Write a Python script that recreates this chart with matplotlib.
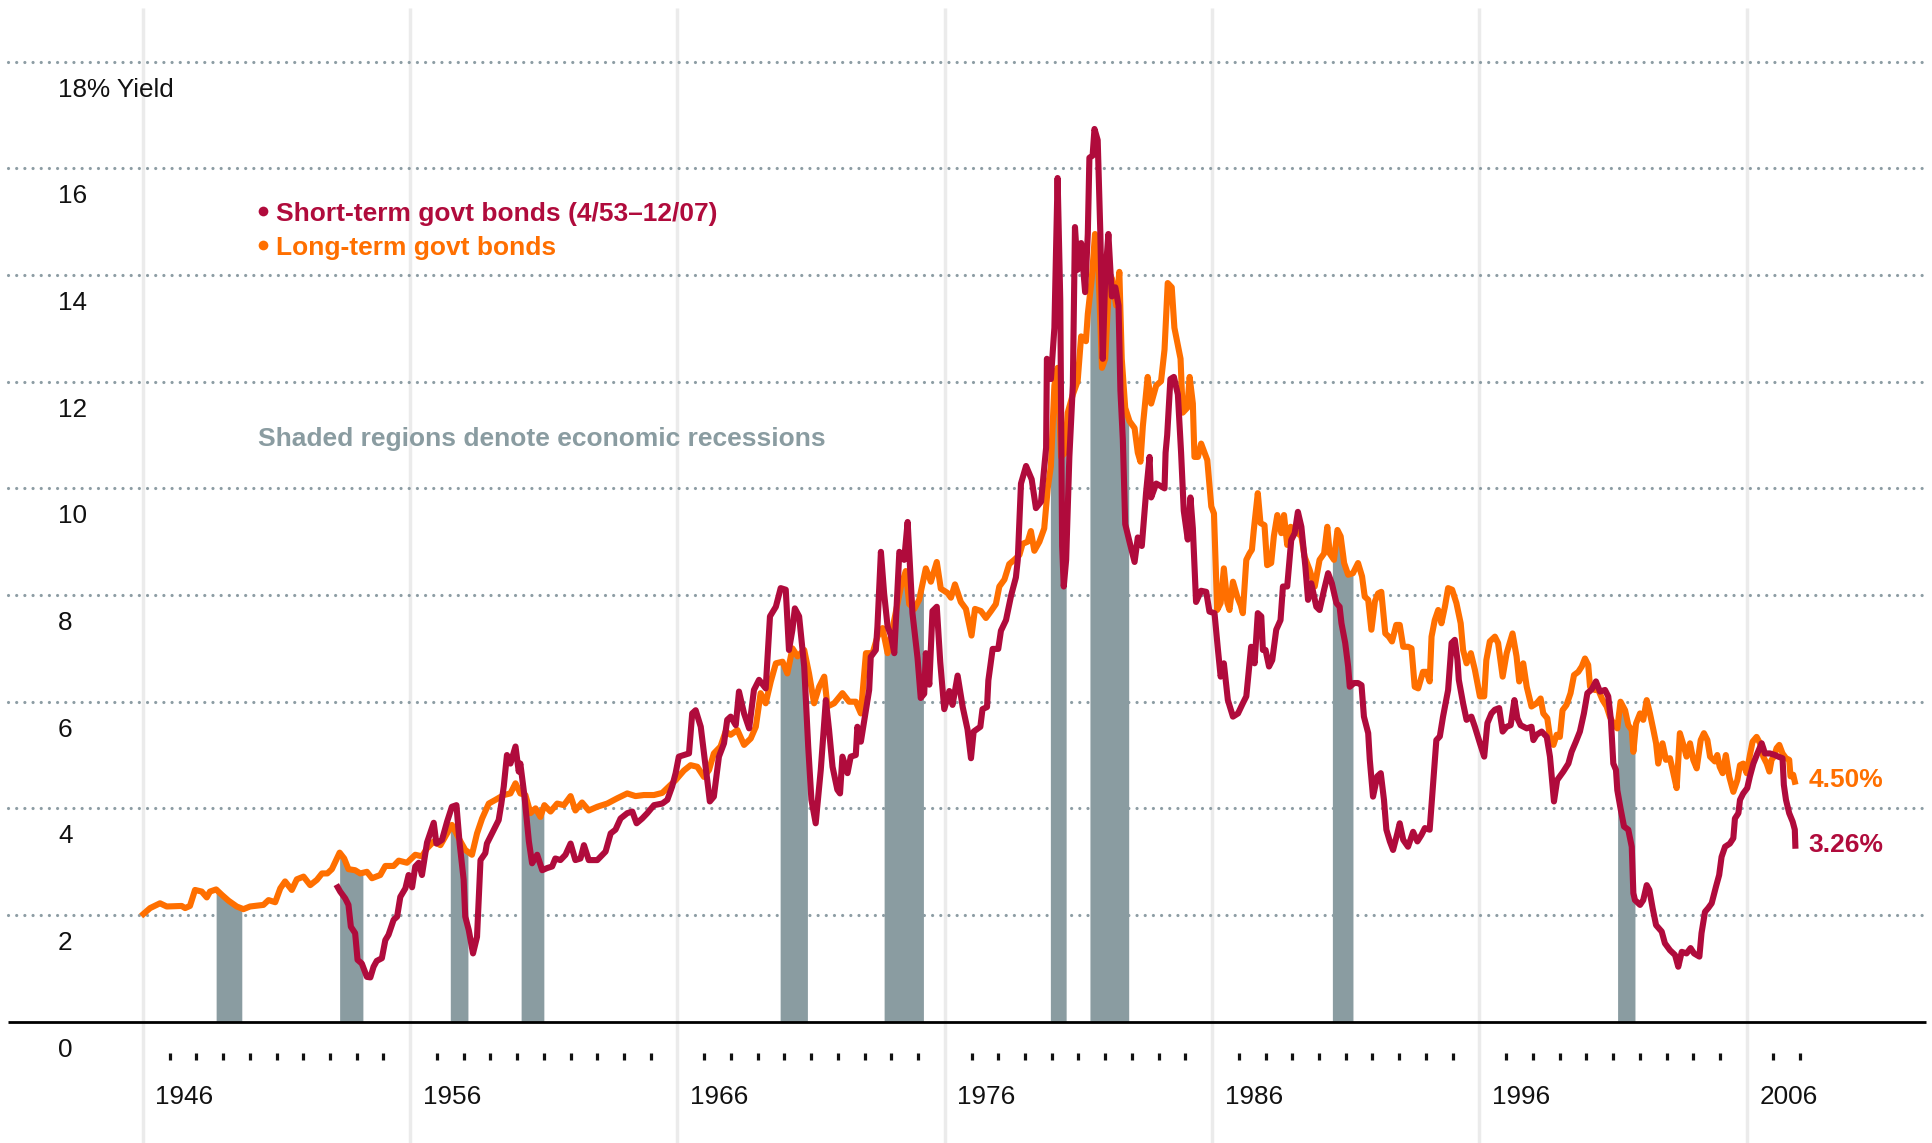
import matplotlib
matplotlib.use("Agg")
import matplotlib.pyplot as plt
import numpy as np

plt.rcParams['font.family'] = ['Liberation Sans', 'DejaVu Sans']

# Long-term govt bond yield (%) (decimal year, value)
lt_year = [
    1946.02, 1946.27, 1946.64, 1946.89, 1947.45, 1947.58, 1947.76, 1947.95, 1948.2, 1948.39,
    1948.51, 1948.74, 1948.95, 1949.2, 1949.51, 1949.76, 1950.01, 1950.51, 1950.7, 1950.95,
    1951.14, 1951.32, 1951.57, 1951.76, 1952.01, 1952.26, 1952.51, 1952.7, 1952.9, 1953.07,
    1953.36, 1953.53, 1953.69, 1953.94, 1954.13, 1954.38, 1954.57, 1954.88, 1955.07, 1955.38,
    1955.57, 1955.88, 1956.19, 1956.44, 1956.63, 1956.88, 1957.13, 1957.31, 1957.56, 1957.88,
    1958.06, 1958.31, 1958.5, 1958.69, 1958.94, 1959.19, 1959.5, 1959.75, 1959.94,
    1960.12, 1960.31, 1960.5, 1960.69, 1960.87, 1961.02, 1961.25, 1961.5, 1961.75, 1962.0,
    1962.18, 1962.43, 1962.68, 1963.0, 1963.37, 1963.75, 1964.12, 1964.43, 1964.74, 1965.12,
    1965.43, 1965.68, 1965.93, 1966.24, 1966.49, 1966.74, 1966.99, 1967.18, 1967.36, 1967.61,
    1967.8, 1967.99, 1968.24, 1968.49, 1968.74, 1968.93, 1969.11, 1969.3, 1969.49, 1969.68,
    1969.93, 1970.11, 1970.3, 1970.49, 1970.74, 1970.92, 1971.11, 1971.3, 1971.49, 1971.61,
    1971.86, 1972.17, 1972.42, 1972.67, 1972.86, 1973.05, 1973.3, 1973.48, 1973.67, 1973.86,
    1974.11, 1974.36, 1974.54, 1974.67, 1974.86, 1975.04, 1975.29, 1975.48, 1975.7, 1975.85,
    1976.1, 1976.23, 1976.38, 1976.6, 1976.79, 1977.0, 1977.13, 1977.35, 1977.54, 1977.73,
    1977.91, 1978.04, 1978.23, 1978.41, 1978.6, 1978.79, 1978.91, 1979.1, 1979.22, 1979.35,
    1979.54, 1979.72, 1979.85, 1979.97, 1980.1, 1980.22, 1980.35, 1980.5, 1980.6, 1980.79,
    1980.97, 1981.1, 1981.28, 1981.35, 1981.5, 1981.62, 1981.75, 1981.88, 1982.0, 1982.12,
    1982.25, 1982.41, 1982.53, 1982.62, 1982.75, 1982.91, 1983.1, 1983.22, 1983.32, 1983.41,
    1983.59, 1983.72, 1983.91, 1984.09, 1984.22, 1984.34, 1984.49, 1984.59, 1984.82, 1984.9,
    1985.07, 1985.16, 1985.28, 1985.34, 1985.47, 1985.59, 1985.82, 1985.97, 1986.07, 1986.19,
    1986.32, 1986.44, 1986.57, 1986.65, 1986.78, 1986.94, 1987.07, 1987.15, 1987.28, 1987.4,
    1987.49, 1987.56, 1987.71, 1987.81, 1987.96, 1988.06, 1988.21, 1988.31, 1988.44, 1988.59,
    1988.69, 1988.81, 1988.94, 1989.11, 1989.21, 1989.34, 1989.46, 1989.65, 1989.84, 1990.02,
    1990.19, 1990.31, 1990.4, 1990.56, 1990.69, 1990.81, 1990.94, 1991.09, 1991.27, 1991.46,
    1991.61, 1991.71, 1991.84, 1991.96, 1992.09, 1992.21, 1992.33, 1992.48, 1992.61, 1992.73,
    1992.89, 1993.02, 1993.15, 1993.33, 1993.46, 1993.58, 1993.71, 1993.89, 1994.02, 1994.14,
    1994.21, 1994.33, 1994.46, 1994.58, 1994.71, 1994.83, 1994.98, 1995.14, 1995.3, 1995.39,
    1995.52, 1995.68, 1995.83, 1996.02, 1996.18, 1996.26, 1996.39, 1996.58, 1996.7, 1996.87,
    1997.02, 1997.24, 1997.39, 1997.49, 1997.64, 1997.77, 1997.95, 1998.14, 1998.29, 1998.39,
    1998.54, 1998.64, 1998.77, 1998.89, 1999.01, 1999.11, 1999.26, 1999.41, 1999.54, 1999.7,
    1999.83, 1999.95, 2000.07, 2000.14, 2000.32, 2000.45, 2000.61, 2000.76, 2000.88, 2001.01,
    2001.16, 2001.28, 2001.45, 2001.57, 2001.7, 2001.76, 2001.86, 2002.01, 2002.13, 2002.26,
    2002.38, 2002.51, 2002.61, 2002.69, 2002.85, 2002.98, 2003.13, 2003.23, 2003.38, 2003.5,
    2003.65, 2003.75, 2003.88, 2004.0, 2004.13, 2004.28, 2004.4, 2004.53, 2004.63, 2004.81,
    2004.9, 2004.99, 2005.1, 2005.22, 2005.35, 2005.5, 2005.65, 2005.75, 2005.87, 2006.0,
    2006.12, 2006.22, 2006.37, 2006.5, 2006.62, 2006.75, 2006.85, 2006.93, 2007.02, 2007.12,
    2007.22, 2007.34, 2007.47, 2007.59, 2007.64, 2007.74, 2007.8,
]
lt_yield = [
    2.02, 2.13, 2.22, 2.16, 2.17, 2.13, 2.17, 2.47, 2.44, 2.33,
    2.44, 2.48, 2.38, 2.27, 2.16, 2.11, 2.16, 2.19, 2.28, 2.24,
    2.5, 2.63, 2.47, 2.67, 2.72, 2.56, 2.66, 2.78, 2.78, 2.86,
    3.17, 3.06, 2.86, 2.84, 2.78, 2.81, 2.69, 2.75, 2.92, 2.92,
    3.02, 2.98, 3.13, 3.1, 3.25, 3.38, 3.31, 3.47, 3.69, 3.38,
    3.22, 3.13, 3.53, 3.81, 4.09, 4.16, 4.25, 4.28, 4.47,
    4.28, 4.25, 3.91, 4.0, 3.84, 4.06, 3.94, 4.09, 4.06, 4.23,
    3.96, 4.11, 3.96, 4.03, 4.09, 4.19, 4.28, 4.23, 4.25, 4.25,
    4.29, 4.41, 4.53, 4.71, 4.81, 4.78, 4.59, 4.72, 5.03, 5.16,
    5.44, 5.38, 5.47, 5.19, 5.31, 5.53, 6.16, 5.97, 6.38, 6.72,
    6.75, 6.53, 7.0, 6.85, 6.97, 6.53, 5.97, 6.28, 6.47, 5.91,
    5.97, 6.16, 6.0, 6.0, 5.78, 6.91, 6.91, 7.22, 7.38, 6.91,
    7.53, 8.16, 8.45, 7.83, 7.74, 7.91, 8.5, 8.25, 8.62, 8.12,
    8.04, 7.95, 8.2, 7.87, 7.74, 7.24, 7.74, 7.7, 7.57, 7.7,
    7.83, 8.16, 8.29, 8.58, 8.66, 8.75, 8.96, 9.0, 9.2, 8.83,
    9.0, 9.25, 10.0, 10.42, 11.93, 12.26, 10.59, 10.67, 11.42, 11.76,
    12.01, 12.85, 12.76, 13.27, 13.94, 14.77, 14.1, 12.26, 12.43, 13.6,
    13.94, 13.43, 14.06, 12.43, 11.51, 11.26, 11.13, 10.67, 10.5, 11.17,
    12.09, 11.59, 11.93, 12.01, 12.6, 13.85, 13.77, 13.01, 12.43, 11.42,
    11.51, 12.09, 11.59, 10.59, 10.59, 10.84, 10.53, 9.66, 9.53, 7.72,
    7.85, 8.5, 7.85, 7.72, 8.25, 7.97, 7.81, 7.66, 8.66, 8.78,
    8.85, 9.22, 9.91, 9.35, 9.31, 8.56, 8.6, 9.1, 9.5, 9.16,
    9.5, 8.94, 9.28, 9.22, 9.16, 9.1, 8.72, 8.47, 8.16, 8.66,
    8.78, 9.28, 8.78, 8.66, 9.22, 9.1, 8.6, 8.38, 8.41, 8.6,
    8.35, 7.97, 7.91, 7.35, 7.88, 8.03, 8.06, 7.28, 7.22, 7.13,
    7.44, 7.44, 7.03, 7.03, 7.0, 6.28, 6.25, 6.56, 6.56, 6.38,
    7.22, 7.53, 7.72, 7.47, 7.78, 8.13, 8.1, 7.85, 7.47, 6.97,
    6.72, 6.91, 6.6, 6.1, 6.1, 6.78, 7.13, 7.22, 7.1, 6.47,
    6.91, 7.28, 6.85, 6.38, 6.72, 6.28, 5.91, 5.97, 6.06, 5.78,
    5.69, 5.34, 5.19, 5.38, 5.34, 5.84, 5.94, 6.16, 6.5, 6.56,
    6.66, 6.81, 6.69, 6.28, 6.22, 6.22, 6.03, 5.91, 5.72, 5.59,
    5.5, 6.0, 5.84, 5.56, 5.47, 5.06, 5.59, 5.78, 5.66, 6.03,
    5.78, 5.47, 5.22, 4.84, 5.22, 4.91, 4.94, 4.72, 4.38, 5.41,
    5.16, 4.97, 5.22, 4.91, 4.75, 5.28, 5.41, 5.28, 4.97, 4.88,
    5.0, 4.78, 4.66, 5.0, 4.59, 4.31, 4.53, 4.81, 4.84, 4.66,
    5.0, 5.25, 5.34, 5.22, 4.97, 4.84, 4.69, 4.91, 4.97, 5.13,
    5.19, 5.03, 4.94, 4.91, 4.6, 4.63, 4.5,
]

# Short-term govt bond yield (%), 4/53-12/07
st_year = [
    1953.29, 1953.38, 1953.57, 1953.69, 1953.78, 1953.94, 1954.03, 1954.19, 1954.38, 1954.51,
    1954.63, 1954.75, 1954.94, 1955.07, 1955.19, 1955.38, 1955.51, 1955.63, 1955.82, 1955.94,
    1956.07, 1956.19, 1956.32, 1956.44, 1956.63, 1956.88, 1956.98, 1957.19, 1957.38, 1957.56,
    1957.73, 1957.85, 1958.0, 1958.06, 1958.19, 1958.35, 1958.5, 1958.63, 1958.81, 1958.87,
    1959.12, 1959.31, 1959.41, 1959.5, 1959.62, 1959.75, 1959.94, 1960.06,
    1960.12, 1960.27, 1960.44, 1960.56, 1960.75, 1960.94, 1961.12, 1961.31, 1961.43, 1961.62,
    1961.81, 1962.0, 1962.18, 1962.37, 1962.5, 1962.68, 1963.0, 1963.31, 1963.5, 1963.68,
    1963.87, 1964.12, 1964.31, 1964.47, 1964.68, 1964.87, 1965.12, 1965.43, 1965.62, 1965.8,
    1965.93, 1966.05, 1966.24, 1966.43, 1966.55, 1966.68, 1966.87, 1967.05, 1967.21, 1967.36,
    1967.55, 1967.74, 1967.86, 1967.99, 1968.18, 1968.3, 1968.49, 1968.68, 1968.86, 1969.05,
    1969.3, 1969.46, 1969.68, 1969.86, 1970.05, 1970.17, 1970.3, 1970.39, 1970.55, 1970.74,
    1970.89, 1971.01, 1971.17, 1971.36, 1971.55, 1971.67, 1971.8, 1971.98, 1972.08, 1972.17,
    1972.36, 1972.48, 1972.67, 1972.73, 1972.86, 1973.05, 1973.17, 1973.23, 1973.42, 1973.48,
    1973.61, 1973.73, 1973.86, 1973.98, 1974.11, 1974.3, 1974.48, 1974.61, 1974.79, 1974.98,
    1975.1, 1975.23, 1975.29, 1975.42, 1975.54, 1975.7, 1975.83, 1975.98, 1976.17, 1976.29,
    1976.48, 1976.67, 1976.85, 1976.98, 1977.08, 1977.33, 1977.41, 1977.58, 1977.63, 1977.79,
    1978.0, 1978.1, 1978.29, 1978.48, 1978.66, 1978.73, 1978.85, 1979.04, 1979.25, 1979.41,
    1979.6, 1979.79, 1979.82, 1979.97, 1980.1, 1980.22, 1980.32, 1980.39, 1980.45, 1980.54,
    1980.66, 1980.79, 1980.87, 1980.97, 1981.1, 1981.25, 1981.35, 1981.41, 1981.53, 1981.6,
    1981.72, 1981.82, 1981.91, 1982.0, 1982.12, 1982.25, 1982.38, 1982.5, 1982.57, 1982.66,
    1982.75, 1982.91, 1983.1, 1983.22, 1983.37, 1983.53, 1983.66, 1983.72, 1983.91, 1984.09,
    1984.22, 1984.26, 1984.32, 1984.44, 1984.57, 1984.72, 1984.84, 1984.94, 1985.09, 1985.19,
    1985.28, 1985.4, 1985.59, 1985.78, 1985.9, 1986.09, 1986.22, 1986.32, 1986.44, 1986.59,
    1986.78, 1986.97, 1987.15, 1987.28, 1987.4, 1987.46, 1987.59, 1987.71, 1987.84, 1987.9,
    1988.0, 1988.13, 1988.25, 1988.4, 1988.56, 1988.65, 1988.81, 1988.96, 1989.09, 1989.21,
    1989.34, 1989.49, 1989.59, 1989.71, 1989.9, 1990.02, 1990.19, 1990.34, 1990.48, 1990.65,
    1990.77, 1990.84, 1990.98, 1991.09, 1991.15, 1991.31, 1991.46, 1991.59, 1991.68, 1991.84,
    1991.9, 1992.02, 1992.18, 1992.31, 1992.43, 1992.52, 1992.65, 1992.77, 1992.93, 1993.02,
    1993.15, 1993.33, 1993.52, 1993.68, 1993.83, 1993.96, 1994.14, 1994.27, 1994.39, 1994.52,
    1994.64, 1994.83, 1994.96, 1995.08, 1995.18, 1995.23, 1995.39, 1995.52, 1995.7, 1995.83,
    1996.02, 1996.18, 1996.3, 1996.45, 1996.58, 1996.74, 1996.87, 1997.02, 1997.17, 1997.31,
    1997.42, 1997.54, 1997.77, 1997.95, 1998.02, 1998.14, 1998.33, 1998.52, 1998.64, 1998.79,
    1998.91, 1999.14, 1999.33, 1999.45, 1999.61, 1999.76, 1999.91, 2000.04, 2000.2, 2000.36,
    2000.51, 2000.7, 2000.82, 2000.92, 2001.01, 2001.11, 2001.16, 2001.28, 2001.41, 2001.57,
    2001.7, 2001.76, 2001.82, 2002.01, 2002.13, 2002.26, 2002.36, 2002.48, 2002.61, 2002.82,
    2002.94, 2003.13, 2003.32, 2003.44, 2003.57, 2003.75, 2003.9, 2004.03, 2004.23, 2004.31,
    2004.44, 2004.56, 2004.69, 2004.85, 2004.97, 2005.06, 2005.19, 2005.37, 2005.5, 2005.56,
    2005.69, 2005.75, 2005.87, 2006.02, 2006.12, 2006.25, 2006.4, 2006.56, 2006.62, 2006.68,
    2006.87, 2007.06, 2007.18, 2007.34, 2007.39, 2007.47, 2007.59, 2007.72, 2007.8, 2007.82,
]
st_yield = [
    2.52, 2.44, 2.31, 2.19, 1.78, 1.66, 1.16, 1.09, 0.84, 0.83,
    1.03, 1.14, 1.19, 1.53, 1.63, 1.91, 1.97, 2.34, 2.5, 2.75,
    2.52, 2.91, 2.98, 2.75, 3.36, 3.73, 3.34, 3.41, 3.75, 4.03,
    4.06, 3.34, 2.66, 1.97, 1.72, 1.28, 1.59, 3.03, 3.16, 3.34,
    3.59, 3.78, 4.09, 4.41, 5.0, 4.84, 5.16, 4.69,
    4.84, 4.25, 3.38, 2.97, 3.13, 2.84, 2.88, 2.91, 3.06, 3.03,
    3.13, 3.34, 3.03, 3.06, 3.31, 3.03, 3.03, 3.19, 3.53, 3.6,
    3.81, 3.91, 3.94, 3.72, 3.81, 3.91, 4.06, 4.09, 4.16, 4.41,
    4.66, 4.97, 5.0, 5.03, 5.78, 5.84, 5.53, 4.78, 4.13, 4.22,
    4.97, 5.22, 5.66, 5.72, 5.56, 6.19, 5.78, 5.5, 6.22, 6.41,
    6.25, 7.6, 7.78, 8.13, 8.1, 6.97, 7.35, 7.75, 7.6, 6.66,
    5.16, 4.16, 3.72, 4.72, 6.03, 5.47, 4.78, 4.35, 4.28, 4.97,
    4.66, 4.97, 5.0, 5.53, 5.25, 5.84, 6.22, 6.84, 6.97, 7.41,
    8.81, 8.03, 7.41, 7.25, 6.91, 8.81, 8.66, 9.37, 7.66, 6.82,
    6.07, 6.15, 6.91, 6.32, 7.7, 7.78, 6.74, 5.86, 6.2, 5.94,
    6.49, 5.9, 5.48, 4.94, 5.44, 5.53, 5.86, 5.9, 6.4, 6.99,
    6.99, 7.33, 7.53, 7.99, 8.33, 8.66, 10.09, 10.42, 10.17, 9.63,
    9.75, 10.76, 12.43, 12.05, 13.01, 15.82, 13.52, 8.92, 8.16, 8.66,
    10.59, 11.93, 14.9, 14.1, 14.6, 13.68, 14.77, 16.2, 16.24, 16.74,
    16.53, 14.77, 12.43, 13.94, 14.77, 13.6, 13.77, 13.43, 11.84, 10.92,
    9.33, 9.0, 8.62, 9.08, 8.92, 9.92, 10.59, 9.83, 10.09, 10.04,
    10.0, 10.67, 11.0, 12.05, 12.09, 11.76, 10.67, 9.58, 9.04, 9.83,
    9.25, 7.87, 8.08, 8.06, 7.69, 7.66, 6.97, 6.47, 6.72, 6.03,
    5.72, 5.78, 5.97, 6.1, 6.72, 7.03, 6.72, 7.66, 7.6, 6.97,
    6.97, 6.66, 6.78, 7.35, 7.53, 8.16, 8.16, 9.03, 9.16, 9.56,
    9.28, 8.53, 7.91, 8.22, 7.78, 7.72, 8.1, 8.41, 8.22, 7.85,
    7.78, 7.47, 7.1, 6.66, 6.28, 6.35, 6.35, 6.31, 5.72, 5.41,
    4.91, 4.22, 4.6, 4.66, 4.16, 3.6, 3.38, 3.22, 3.53, 3.72,
    3.41, 3.28, 3.56, 3.38, 3.5, 3.63, 3.6, 4.47, 5.28, 5.35,
    5.72, 6.22, 7.1, 7.16, 6.78, 6.41, 5.97, 5.66, 5.72, 5.53,
    5.22, 4.97, 5.6, 5.78, 5.85, 5.88, 5.44, 5.53, 5.56, 6.03,
    5.69, 5.56, 5.5, 5.53, 5.28, 5.38, 5.44, 5.34, 4.97, 4.13,
    4.53, 4.69, 4.84, 5.06, 5.25, 5.44, 5.78, 6.16, 6.23, 6.38,
    6.19, 6.22, 6.1, 5.66, 4.84, 4.72, 4.34, 4.0, 3.66, 3.6,
    3.28, 2.41, 2.28, 2.19, 2.28, 2.56, 2.47, 2.13, 1.81, 1.69,
    1.47, 1.34, 1.25, 1.03, 1.31, 1.28, 1.38, 1.28, 1.22, 1.66,
    2.06, 2.13, 2.22, 2.53, 2.75, 3.09, 3.28, 3.34, 3.44, 3.81,
    3.91, 4.16, 4.28, 4.38, 4.6, 4.84, 5.03, 5.22, 5.13, 5.03,
    5.03, 5.0, 4.97, 4.94, 4.44, 4.16, 3.91, 3.75, 3.6, 3.3,
]

# recession spans (decimal years)
recessions = [
    (1948.74, 1949.70), (1953.36, 1954.23), (1957.50, 1958.16), (1960.15, 1961.00),
    (1969.84, 1970.86), (1973.73, 1975.20), (1979.95, 1980.54), (1981.43, 1982.88),
    (1990.50, 1991.27), (2001.17, 2001.82),
]

y_grid = [2, 4, 6, 8, 10, 12, 14, 16, 18]
y_labels = ['0', '2', '4', '6', '8', '10', '12', '14', '16', '18% Yield']
decades = [1946, 1956, 1966, 1976, 1986, 1996, 2006]
tick_years = [y for y in range(1947, 2009) if (y - 1946) % 10]

RED = '#B00B3C'
ORANGE = '#FF6F00'
SHADE = '#8A9CA1'
DOT = '#8D9DA4'
VGRID = '#EBEBEB'

fig = plt.figure(figsize=(19.33, 11.43), dpi=100)
ax = fig.add_axes([0, 0, 1, 1])
ax.set_xlim(1940.654, 2012.97)
ax.set_ylim(-2.275, 19.158)
ax.axis('off')

x0, x1 = 1940.95, 2012.7

# light vertical decade lines
for d in decades:
    ax.plot([d, d], [-2.4, 19.0], color=VGRID, lw=2.5, zorder=0, solid_capstyle='butt')

# dotted horizontal gridlines
for v in y_grid:
    ax.plot([x0, x1], [v, v], color=DOT, lw=2.3, ls=(0, (0.01, 2.55)),
            dash_capstyle='round', zorder=1)

# recession shading under the long-term curve
for a, b in recessions:
    xs = [a] + [x for x in lt_year if a < x < b] + [b]
    ys = np.interp(xs, lt_year, lt_yield)
    ax.fill_between(xs, 0, ys, color=SHADE, lw=0, zorder=2)

ax.plot(lt_year, lt_yield, color=ORANGE, lw=4.4, solid_joinstyle='round', zorder=3)
ax.plot(st_year, st_yield, color=RED, lw=4.4, solid_joinstyle='round', zorder=4)

# baseline and year ticks
ax.plot([x0, x1], [0, 0], color='black', lw=2, zorder=5, solid_capstyle='butt')
ax.vlines(tick_years, -0.72, -0.58, colors='#111111', lw=2.3)

for i, lab in enumerate(y_labels):
    ax.text(1942.82, 2 * i - 0.656, lab, fontsize=18.8, ha='left', va='baseline', color='#111111')
for d in decades:
    ax.text(d + 0.47, -1.543, str(d), fontsize=18.8, ha='left', va='baseline', color='#111111')

# legend
ax.plot([1950.48], [15.21], 'o', ms=7, color=RED, mec='none')
ax.text(1950.98, 15.02, 'Short-term govt bonds (4/53\u201312/07)', fontsize=19,
        fontweight='bold', color=RED, va='baseline')
ax.plot([1950.48], [14.56], 'o', ms=7, color=ORANGE, mec='none')
ax.text(1950.98, 14.38, 'Long-term govt bonds', fontsize=19,
        fontweight='bold', color=ORANGE, va='baseline')
ax.text(1950.29, 10.79, 'Shaded regions denote economic recessions', fontsize=19,
        fontweight='bold', color=SHADE, va='baseline')

# end labels
ax.text(2008.3, 4.395, '4.50%', fontsize=19, fontweight='bold', color=ORANGE, va='baseline')
ax.text(2008.3, 3.19, '3.26%', fontsize=19, fontweight='bold', color=RED, va='baseline')

fig.savefig('out.png', dpi=100)
